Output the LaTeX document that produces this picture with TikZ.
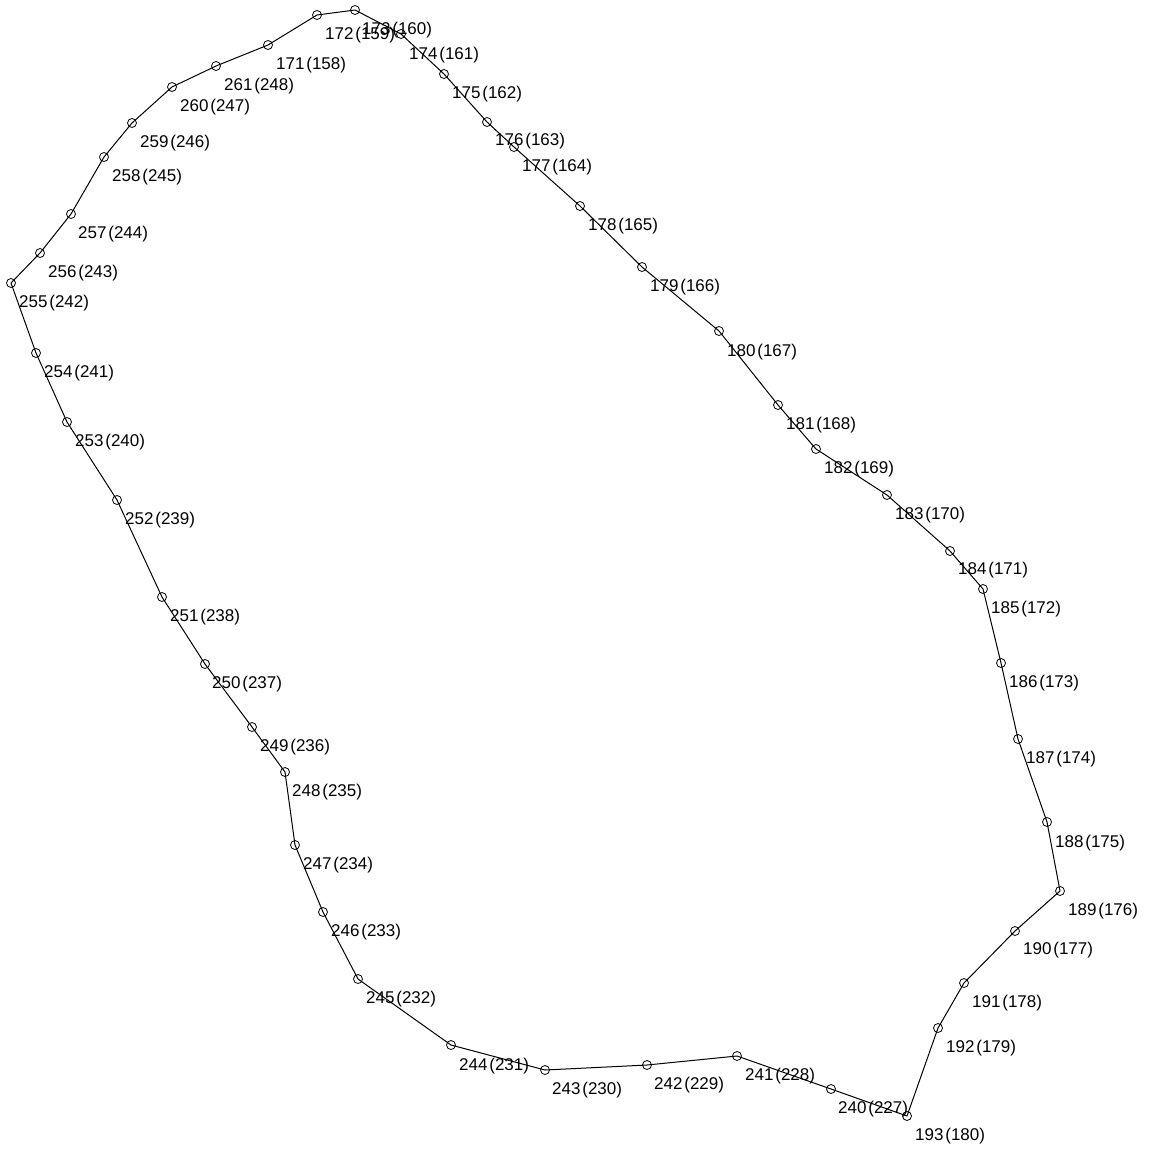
\documentclass[tikz,border=0pt]{standalone}
\usepackage{fontspec}
\setmainfont{Liberation Sans}
\tikzset{
  x=1pt,y=-1pt,
  station/.style={circle,draw=black,line width=0.8pt,minimum size=9pt,inner sep=0pt},
  tag/.style={anchor=west,inner sep=0pt,yshift=-1pt,font=\fontsize{17pt}{19pt}\selectfont,text=black},
  route/.style={draw=black,line width=1pt,line join=round}
}
\newcommand{\stn}[6]{%
  \node[station] (p#1) at (#3,#4) {};
  \node[tag] (t#1) at (#5,#6) {#1\kern1.8pt(#2)};
}
\begin{document}
\begin{tikzpicture}
\useasboundingbox (0,0) rectangle (1150,1148);
\stn{171}{158}{268}{45}{276}{64}
\stn{172}{159}{317}{15}{325}{34}
\stn{173}{160}{355}{10}{362}{29}
\stn{174}{161}{401}{34}{409}{54}
\stn{175}{162}{444}{74}{452}{93}
\stn{176}{163}{487}{122}{495}{140}
\stn{177}{164}{514}{147}{522}{166}
\stn{178}{165}{580}{206}{588}{225}
\stn{179}{166}{642}{267}{650}{286}
\stn{180}{167}{719}{331}{727}{351}
\stn{181}{168}{778}{405}{786}{424}
\stn{182}{169}{816}{449}{824}{468}
\stn{183}{170}{887}{495}{895}{514}
\stn{184}{171}{950}{551}{958}{569}
\stn{185}{172}{983}{589}{991}{608}
\stn{186}{173}{1001}{663}{1009}{682}
\stn{187}{174}{1018}{739}{1026}{758}
\stn{188}{175}{1047}{822}{1055}{842}
\stn{189}{176}{1060}{891}{1068}{910}
\stn{190}{177}{1015}{931}{1023}{949}
\stn{191}{178}{964}{983}{972}{1002}
\stn{192}{179}{938}{1028}{946}{1047}
\stn{193}{180}{907}{1116}{915}{1135}
\stn{240}{227}{831}{1089}{838}{1108}
\stn{241}{228}{737}{1056}{745}{1075}
\stn{242}{229}{647}{1065}{654}{1084}
\stn{243}{230}{545}{1070}{552}{1089}
\stn{244}{231}{451}{1045}{459}{1065}
\stn{245}{232}{358}{979}{366}{998}
\stn{246}{233}{323}{912}{331}{931}
\stn{247}{234}{295}{845}{303}{864}
\stn{248}{235}{285}{772}{292}{791}
\stn{249}{236}{252}{727}{260}{746}
\stn{250}{237}{205}{664}{212}{683}
\stn{251}{238}{162}{597}{170}{616}
\stn{252}{239}{117}{500}{125}{519}
\stn{253}{240}{67}{422}{75}{441}
\stn{254}{241}{36}{353}{44}{372}
\stn{255}{242}{11}{283}{19}{302}
\stn{256}{243}{40}{253}{48}{272}
\stn{257}{244}{71}{214}{78}{233}
\stn{258}{245}{104}{157}{112}{176}
\stn{259}{246}{132}{123}{140}{142}
\stn{260}{247}{172}{87}{180}{106}
\stn{261}{248}{216}{66}{224}{85}
\draw[route] (p171.center)
  -- (p172.center) -- (p173.center) -- (p174.center) -- (p175.center)
  -- (p176.center) -- (p177.center) -- (p178.center) -- (p179.center)
  -- (p180.center) -- (p181.center) -- (p182.center) -- (p183.center)
  -- (p184.center) -- (p185.center) -- (p186.center) -- (p187.center)
  -- (p188.center) -- (p189.center) -- (p190.center) -- (p191.center)
  -- (p192.center) -- (p193.center) -- (p240.center) -- (p241.center)
  -- (p242.center) -- (p243.center) -- (p244.center) -- (p245.center)
  -- (p246.center) -- (p247.center) -- (p248.center) -- (p249.center)
  -- (p250.center) -- (p251.center) -- (p252.center) -- (p253.center)
  -- (p254.center) -- (p255.center) -- (p256.center) -- (p257.center)
  -- (p258.center) -- (p259.center) -- (p260.center) -- (p261.center)
  -- cycle;
\end{tikzpicture}
\end{document}
